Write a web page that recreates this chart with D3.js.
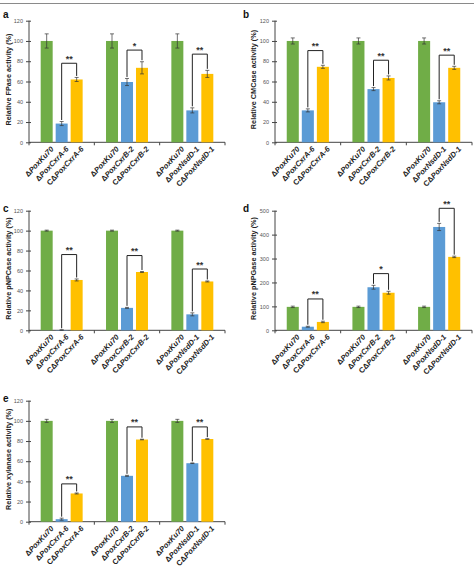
<!DOCTYPE html>
<html><head><meta charset="utf-8">
<script src="https://cdn.jsdelivr.net/npm/d3@7"></script>
<style>body{margin:0;background:#fff}svg{display:block;font-family:"Liberation Sans",Arial,sans-serif}</style>
</head><body><svg id="c" width="474" height="567"></svg>
<script>
// ---- data ----
const strains = [
  ["ΔPoxKu70","ΔPoxCxrA-6","CΔPoxCxrA-6"],
  ["ΔPoxKu70","ΔPoxCxrB-2","CΔPoxCxrB-2"],
  ["ΔPoxKu70","ΔPoxNsdD-1","CΔPoxNsdD-1"]
];
const seriesColors = ["#70AD47","#5B9BD5","#FFC000"];

const fpaseValues = [[100,18.5,62],[100,59.5,73.5],[100,31.5,67.5]];
const fpaseErrors = [[7,2,2],[7,3.5,6],[7,2.5,3.5]];
const fpaseSig = ["**","*","**"];
const fpaseBracket = [78,91,87];

const cmcaseValues = [[100,31.5,74.5],[100,52.5,63.5],[100,39.5,73.5]];
const cmcaseErrors = [[3,1.5,1.5],[3,1.5,2],[3,1.5,1.5]];
const cmcaseSig = ["**","**","**"];
const cmcaseBracket = [90.5,81,86];

const pnpcaseValues = [[100,0.3,50.5],[100,22.5,58.5],[100,16,49]];
const pnpcaseErrors = [[0.5,0.2,1],[0.5,0.5,0.5],[0.5,1.5,0.5]];
const pnpcaseSig = ["**","**","**"];
const pnpcaseBracket = [76,75,61.5];

const pnpgaseValues = [[98,15,35],[98,180,157],[98,432,307]];
const pnpgaseErrors = [[3,2,3],[3,8,6],[3,15,3]];
const pnpgaseSig = ["**","*","**"];
const pnpgaseBracket = [131,237,510];

const xylValues = [[100,2.5,28],[100,45.5,81.5],[100,58,82]];
const xylErrors = [[1.5,1,0.5],[1.5,0.5,0.3],[1.5,0.3,0.3]];
const xylSig = ["**","**","**"];
const xylBracket = [37.5,94,94];

const yTicksPct = [0,20,40,60,80,100,120];
const yTicksPnpg = [0,100,200,300,400,500];

// ---- layout ----
const svg = d3.select("#c");
svg.append("line").attr("x1",0).attr("x2",474).attr("y1",3.5).attr("y2",3.5)
  .attr("stroke","#8a8a8a").attr("stroke-width",1.2);

const panels = [
  {letter:"a", title:"Relative FPase activity (%)", v:fpaseValues, e:fpaseErrors, s:fpaseSig, b:fpaseBracket, ticks:yTicksPct,
   left:29, right:225, top:20.7, bottom:142.3, titleX:8, lx:3, ly:18},
  {letter:"b", title:"Relative CMCase activity (%)", v:cmcaseValues, e:cmcaseErrors, s:cmcaseSig, b:cmcaseBracket, ticks:yTicksPct,
   left:275, right:472, top:20.7, bottom:142.3, titleX:253, lx:243, ly:18},
  {letter:"c", title:"Relative pNPCase activity (%)", v:pnpcaseValues, e:pnpcaseErrors, s:pnpcaseSig, b:pnpcaseBracket, ticks:yTicksPct,
   left:29, right:225, top:210.7, bottom:330.3, titleX:8, lx:3, ly:212},
  {letter:"d", title:"Relative pNPGase activity (%)", v:pnpgaseValues, e:pnpgaseErrors, s:pnpgaseSig, b:pnpgaseBracket, ticks:yTicksPnpg,
   left:275, right:472, top:210.7, bottom:330.3, titleX:253, lx:243, ly:212},
  {letter:"e", title:"Relative xylanase activity (%)", v:xylValues, e:xylErrors, s:xylSig, b:xylBracket, ticks:yTicksPct,
   left:29, right:225, top:400.7, bottom:521.7, titleX:8, lx:3, ly:402}
];

panels.forEach(p => {
  const g = svg.append("g");
  const y = d3.scaleLinear().domain([0, d3.max(p.ticks)]).range([p.bottom, p.top]);
  const xg = d3.scaleBand().domain([0,1,2]).range([p.left, p.right]);
  const xb = d3.scaleBand().domain([0,1,2]).range([0, xg.bandwidth()]).paddingInner(0.2).paddingOuter(0.78);

  // letter
  g.append("text").attr("x",p.lx).attr("y",p.ly).text(p.letter)
    .attr("font-weight","bold").attr("font-size",10).attr("fill","#111");

  // y axis
  const ya = g.append("g").attr("transform",`translate(${p.left},0)`)
    .call(d3.axisLeft(y).tickValues(p.ticks).tickSize(3).tickPadding(3));
  ya.select(".domain").attr("stroke","#444").attr("d",`M0,${p.bottom}V${p.top}`);
  ya.selectAll(".tick line").attr("stroke","#444").attr("x1",2);
  ya.selectAll(".tick text").attr("font-size",5.5).attr("fill","#555").attr("font-family","Liberation Sans, Arial");

  // y title
  g.append("text").attr("transform",`translate(${p.titleX},${(p.top+p.bottom)/2 - 2}) rotate(-90)`)
    .attr("text-anchor","middle").attr("dominant-baseline","central")
    .attr("font-size",7.3).attr("font-weight","bold").attr("fill","#222").text(p.title);

  // x axis
  g.append("line").attr("x1",p.left).attr("x2",p.right).attr("y1",p.bottom).attr("y2",p.bottom)
    .attr("stroke","#444").attr("stroke-width",1);
  [0,1,2,3].forEach(i => {
    const xx = i<3 ? xg(i) : p.right;
    g.append("line").attr("x1",xx).attr("x2",xx).attr("y1",p.bottom).attr("y2",p.bottom+3)
      .attr("stroke","#444");
  });

  p.v.forEach((grp, gi) => {
    grp.forEach((val, si) => {
      const x0 = xg(gi) + xb(si);
      const w = xb.bandwidth();
      g.append("rect").attr("x",x0).attr("y",y(val)).attr("width",w)
        .attr("height",Math.max(0,p.bottom - y(val))).attr("fill",seriesColors[si]);
      // error bar
      const cx = x0 + w/2, err = p.e[gi][si];
      const eb = g.append("g").attr("stroke","#333").attr("stroke-width",0.7);
      eb.append("line").attr("x1",cx).attr("x2",cx).attr("y1",y(val+err)).attr("y2",y(Math.max(0,val-err)));
      eb.append("line").attr("x1",cx-2).attr("x2",cx+2).attr("y1",y(val+err)).attr("y2",y(val+err));
      eb.append("line").attr("x1",cx-2).attr("x2",cx+2).attr("y1",y(Math.max(0,val-err))).attr("y2",y(Math.max(0,val-err)));
      // x label
      const lab = strains[gi][si];
      const idx = lab.indexOf("Δ")+1;
      const t = g.append("text").attr("transform",`translate(${cx+3},${p.bottom+3}) rotate(-47)`)
        .attr("text-anchor","end").attr("dominant-baseline","hanging")
        .attr("font-size",7.6).attr("font-weight","bold").attr("fill","#222");
      t.append("tspan").text(lab.slice(0,idx));
      t.append("tspan").attr("font-style","italic").text(lab.slice(idx));
    });
    // bracket
    const bx1 = xg(gi) + xb(1) + xb.bandwidth()/2;
    const bx2 = xg(gi) + xb(2) + xb.bandwidth()/2;
    const top = y(p.b[gi]);
    const l1 = y(grp[1] + p.e[gi][1]) - 1.5;
    const l2 = y(grp[2] + p.e[gi][2]) - 1.5;
    g.append("path").attr("d",`M${bx1},${l1}V${top}H${bx2}V${l2}`)
      .attr("fill","none").attr("stroke","#222").attr("stroke-width",1);
    g.append("text").attr("x",(bx1+bx2)/2).attr("y",top-1.5).attr("text-anchor","middle")
      .attr("font-size",9).attr("font-weight","bold").attr("fill","#333").text(p.s[gi]);
  });
});
</script></body></html>
